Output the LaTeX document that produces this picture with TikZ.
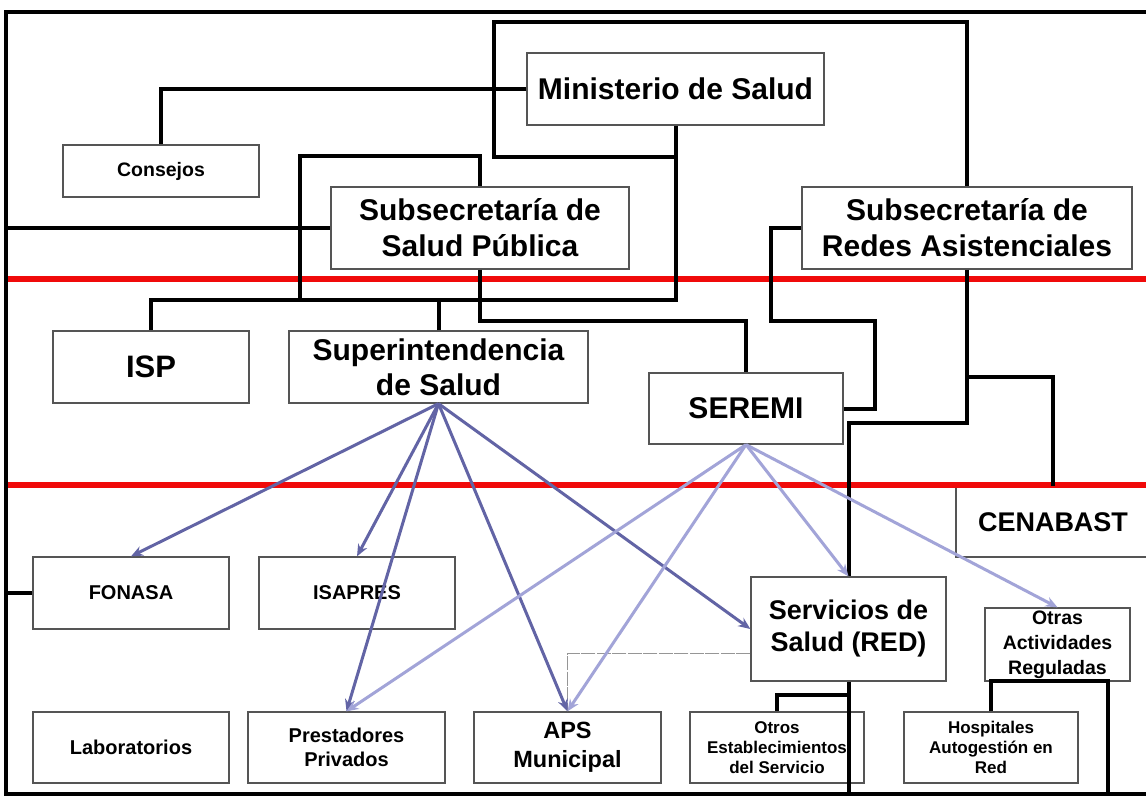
\documentclass[tikz,border=0pt]{standalone}
\usepackage{fontspec}
\setmainfont{Liberation Sans}
\usetikzlibrary{arrows.meta}
\newcommand\myfs[2]{\fontsize{#1pt}{#2pt}\selectfont}
\definecolor{boxc}{RGB}{85,85,85}
\definecolor{redc}{RGB}{240,10,10}
\definecolor{darkarr}{RGB}{98,100,165}
\definecolor{lightarr}{RGB}{162,164,216}
\definecolor{dashc}{RGB}{150,150,150}
\tikzset{
  box/.style={draw=boxc, line width=1.3pt, align=center, inner sep=0pt, font=\bfseries},
  conn/.style={line width=4pt, black},
  redl/.style={line width=6pt, redc},
  darr/.style={line width=3pt, darkarr, -{Stealth[length=12pt,width=10pt]}},
  larr/.style={line width=3pt, lightarr, -{Stealth[length=12pt,width=10pt]}},
  thinl/.style={line width=1pt, dashc, dash pattern=on 14pt off 1.5pt},
}
\begin{document}
\begin{tikzpicture}[x=1pt,y=-1pt]
\useasboundingbox (0,0) rectangle (1146,797);
\fill[white] (0,0) rectangle (1146,797);

% boxes
\node[box, minimum width=297pt, minimum height=72pt, font=\bfseries\myfs{30}{36}] (min) at (675.5,89) {Ministerio de Salud};
\node[box, minimum width=196pt, minimum height=52pt, font=\bfseries\myfs{19.5}{24}] (cons) at (161,171) {Consejos};
\node[box, minimum width=298pt, minimum height=82pt, font=\bfseries\myfs{30}{36}] (ssp) at (480,228) {Subsecretaría de\\Salud Pública};
\node[box, minimum width=330pt, minimum height=82pt, font=\bfseries\myfs{30}{36}] (sra) at (967,228) {Subsecretaría de\\Redes Asistenciales};
\node[box, minimum width=196pt, minimum height=72pt, font=\bfseries\myfs{31}{36}] (isp) at (151,367) {ISP};
\node[box, minimum width=299pt, minimum height=72pt, font=\bfseries\myfs{30}{35}] (sup) at (438.5,367) {Superintendencia\\de Salud};
\node[box, minimum width=194pt, minimum height=71pt, font=\bfseries\myfs{30}{36}] (seremi) at (746,408.5) {SEREMI};
\node[box, minimum width=194pt, minimum height=70pt, font=\bfseries\myfs{27}{32}] (cen) at (1053,522) {CENABAST};
\node[box, minimum width=196pt, minimum height=72pt, font=\bfseries\myfs{20}{24}] (fon) at (131,593) {FONASA};
\node[box, minimum width=196pt, minimum height=72pt, font=\bfseries\myfs{20}{24}] (isa) at (357,593) {ISAPRES};
\node[box, minimum width=195pt, minimum height=104pt, font=\bfseries\myfs{27}{32}] (serv) at (848.5,629) {Servicios de\\Salud (RED)};
\node[box, minimum width=145pt, minimum height=73pt, font=\bfseries\myfs{19.5}{25}] (otras) at (1057.5,644.5) {Otras\\Actividades\\Reguladas};
\node[box, minimum width=196pt, minimum height=71pt, font=\bfseries\myfs{20}{24}] (lab) at (131,747.5) {Laboratorios};
\node[box, minimum width=197pt, minimum height=71pt, font=\bfseries\myfs{20}{24}] (prest) at (346.5,747.5) {Prestadores\\Privados};
\node[box, minimum width=187pt, minimum height=71pt, font=\bfseries\myfs{23.5}{29}] (aps) at (567.5,747.5) {APS\\Municipal};
\node[box, minimum width=174pt, minimum height=71pt, font=\bfseries\myfs{17}{20}] (otros) at (777,747.5) {Otros\\Establecimientos\\del Servicio};
\node[box, minimum width=174pt, minimum height=71pt, font=\bfseries\myfs{17}{20}] (hosp) at (991,747.5) {Hospitales\\Autogestión en\\Red};

% red level lines
\draw[redl] (6,279) -- (1150,279);
\draw[redl] (6,485) -- (1150,485);

% frame
\draw[conn] (1150,12) -- (6,12) -- (6,794) -- (1150,794);

% black connectors
\draw[conn] (min.west) -| (cons.north);
\draw[conn] (min.south) -- (675.5,300) -| (isp.north);
\draw[conn] (675.5,157) -- (494,157) -- (494,22) -- (967,22) -- (sra.north);
\draw[conn] (sra.south) -- (967,423) -| (serv.north);
\draw[conn] (serv.south) -- (848.5,794);
\draw[conn] (967,377) -| (cen.north);
\draw[conn] (848.5,695) -| (otros.north);
\draw[conn] (ssp.north) -- (480,156) -- (300,156) -- (300,300);
\draw[conn] (sup.north) -- (438.5,300);
\draw[conn] (6,228) -- (ssp.west);
\draw[conn] (ssp.south) -- (480,321) -| (seremi.north);
\draw[conn] (sra.west) -- (771,228) -- (771,321) -- (875,321) -- (875,408.5) -- (seremi.east);
\draw[conn] (6,593) -- (fon.west);
\draw[conn] (hosp.north) -- (991,681) -- (1108,681) -- (1108,794);

% thin grey link
\draw[thinl] (serv.west |- 0,653) -| (aps.north);

% supervision arrows
\draw[darr] (sup.south) -- (fon.north);
\draw[darr] (sup.south) -- (isa.north);
\draw[darr] (sup.south) -- (prest.north);
\draw[darr] (sup.south) -- (aps.north);
\draw[darr] (sup.south) -- (serv.west);
\draw[larr] (seremi.south) -- (prest.north);
\draw[larr] (seremi.south) -- (aps.north);
\draw[larr] (seremi.south) -- (serv.north);
\draw[larr] (seremi.south) -- (otras.north);
\end{tikzpicture}
\end{document}
